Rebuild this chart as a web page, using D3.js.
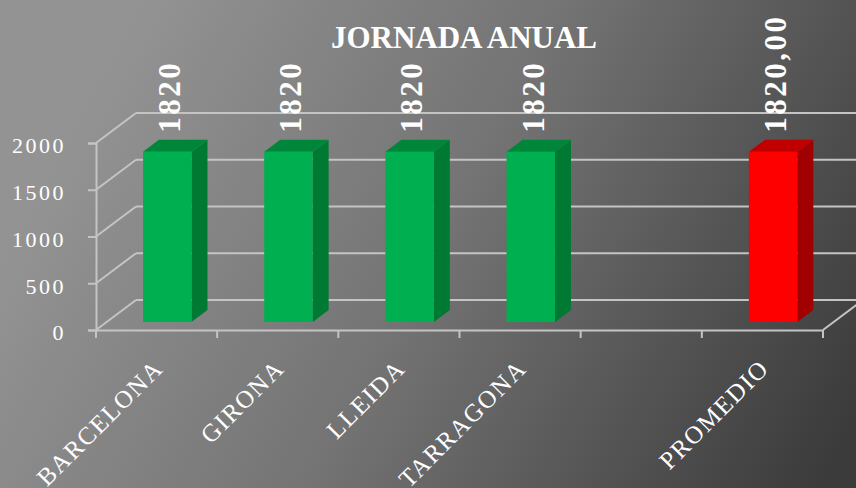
<!DOCTYPE html>
<html>
<head>
<meta charset="utf-8">
<title>Jornada anual</title>
<script src="https://cdnjs.cloudflare.com/ajax/libs/d3/7.8.5/d3.min.js"></script>
<style>
    html, body { margin: 0; padding: 0; overflow: hidden; }
    svg { display: block; }
</style>
</head>
<body>
<div id="chart"></div>
<script>
    // data
    var categories = ["BARCELONA", "GIRONA", "LLEIDA", "TARRAGONA", "", "PROMEDIO"];
    var hours = [1820, 1820, 1820, 1820, null, 1820];
    var hourLabels = ["1820", "1820", "1820", "1820", "", "1820,00"];
    var yTicks = [0, 500, 1000, 1500, 2000];
    var averageName = "PROMEDIO";

    var width = 856, height = 488;
    var serif = "'Liberation Serif', 'DejaVu Serif', serif";

    // depth of the fake 3d box (back wall offset) and where the bars sit inside it
    var wallDx = 40, wallDy = -30;
    var barOffX = wallDx * 8 / 30, barOffY = wallDy * 8 / 30;
    var barDx = 16, barDy = -12;

    var svg = d3.select("#chart").append("svg")
        .attr("width", width)
        .attr("height", height);

    var defs = svg.append("defs");
    var bg = defs.append("linearGradient")
        .attr("id", "bg")
        .attr("x1", "0").attr("y1", "0.55")
        .attr("x2", "1").attr("y2", "0.85");
    bg.append("stop").attr("offset", "0").attr("stop-color", "#939393");
    bg.append("stop").attr("offset", "0.45").attr("stop-color", "#747474");
    bg.append("stop").attr("offset", "1").attr("stop-color", "#3b3b3b");

    svg.append("rect")
        .attr("width", width)
        .attr("height", height)
        .attr("fill", "url(#bg)");

    var x = d3.scaleBand()
        .domain(categories)
        .range([96, 823])
        .padding(0);

    var y = d3.scaleLinear()
        .domain([0, 2000])
        .range([330, 143]);

    var gridColor = "#c4c4c4";
    var x0 = x.range()[0], x1 = x.range()[1];

    // back wall gridlines + side wall diagonals
    var grid = svg.append("g").attr("stroke", gridColor).attr("stroke-width", 2).attr("fill", "none");
    yTicks.forEach(function (t) {
        grid.append("line")
            .attr("x1", x0 + wallDx).attr("y1", y(t) + wallDy)
            .attr("x2", x1 + wallDx).attr("y2", y(t) + wallDy);
        grid.append("line")
            .attr("x1", x0).attr("y1", y(t))
            .attr("x2", x0 + wallDx).attr("y2", y(t) + wallDy);
    });
    // floor right edge
    grid.append("line")
        .attr("x1", x1).attr("y1", y(0))
        .attr("x2", x1 + wallDx).attr("y2", y(0) + wallDy);

    // front axes
    var yAxis = svg.append("g")
        .attr("transform", "translate(" + x0 + ",0)")
        .call(d3.axisLeft(y).tickValues(yTicks).tickFormat(d3.format("d")).tickSize(8).tickPadding(22));
    yAxis.select(".domain").attr("stroke", gridColor).attr("stroke-width", 2);
    yAxis.selectAll(".tick line").attr("stroke", gridColor).attr("stroke-width", 2);
    yAxis.selectAll(".tick text")
        .attr("fill", "#fff")
        .attr("dy", "0.45em")
        .style("font-family", serif)
        .style("font-size", "22px")
        .style("letter-spacing", "2.5px");

    var xAxis = svg.append("g")
        .attr("transform", "translate(0," + y(0) + ")")
        .call(d3.axisBottom(x).tickSize(0).tickFormat(""));
    xAxis.select(".domain").attr("stroke", gridColor).attr("stroke-width", 2);

    // tick marks between categories
    var bounds = categories.map(function (c) { return x(c); }).concat([x1]);
    svg.append("g").selectAll("line")
        .data(bounds)
        .join("line")
        .attr("x1", function (d) { return d; })
        .attr("x2", function (d) { return d; })
        .attr("y1", y(0))
        .attr("y2", y(0) + 8)
        .attr("stroke", gridColor)
        .attr("stroke-width", 2);

    // category labels
    svg.append("g").selectAll("text")
        .data(categories)
        .join("text")
        .attr("transform", function (d) {
            return "translate(" + (x(d) + x.bandwidth() / 2 + 8) + "," + (y(0) + 40) + ") rotate(-45)";
        })
        .attr("text-anchor", "end")
        .attr("fill", "#fff")
        .style("font-family", serif)
        .style("font-size", "25px")
        .style("letter-spacing", "1.5px")
        .text(function (d) { return d; });

    // bars
    var rows = categories.map(function (c, i) {
        return { name: c, value: hours[i], label: hourLabels[i] };
    }).filter(function (d) { return d.value != null; });

    var barW = x.bandwidth() * 0.4;

    var bars = svg.append("g").selectAll("g")
        .data(rows)
        .join("g");

    function faces(d) {
        var bx = x(d.name) + x.bandwidth() / 2 - barW / 2 + barOffX;
        var top = y(d.value) + barOffY;
        var bot = y(0) + barOffY;
        return { bx: bx, top: top, bot: bot };
    }

    bars.append("polygon")
        .attr("points", function (d) {
            var f = faces(d);
            return [[f.bx + barW, f.top], [f.bx + barW + barDx, f.top + barDy],
                [f.bx + barW + barDx, f.bot + barDy], [f.bx + barW, f.bot]].join(" ");
        })
        .attr("fill", function (d) { return d.name === averageName ? "#a00000" : "#007a33"; });

    bars.append("polygon")
        .attr("points", function (d) {
            var f = faces(d);
            return [[f.bx, f.top], [f.bx + barDx, f.top + barDy],
                [f.bx + barW + barDx, f.top + barDy], [f.bx + barW, f.top]].join(" ");
        })
        .attr("fill", function (d) { return d.name === averageName ? "#c00000" : "#00863b"; });

    bars.append("rect")
        .attr("x", function (d) { return faces(d).bx; })
        .attr("y", function (d) { return faces(d).top; })
        .attr("width", barW)
        .attr("height", function (d) { return faces(d).bot - faces(d).top; })
        .attr("fill", function (d) { return d.name === averageName ? "#ff0000" : "#00b050"; });

    // value labels
    bars.append("text")
        .attr("transform", function (d) {
            var f = faces(d);
            return "translate(" + (f.bx + barW / 2 + 2) + "," + (f.top + barDy - 7) + ") rotate(-90)";
        })
        .attr("dy", "0.35em")
        .attr("fill", "#fff")
        .style("font-family", serif)
        .style("font-weight", "bold")
        .style("font-size", "31px")
        .style("letter-spacing", "2.5px")
        .text(function (d) { return d.label; });

    // title
    svg.append("text")
        .attr("x", 464)
        .attr("y", 48)
        .attr("text-anchor", "middle")
        .attr("fill", "#fff")
        .style("font-family", serif)
        .style("font-weight", "bold")
        .style("font-size", "31px")
        .text("JORNADA ANUAL");
</script>
</body>
</html>
